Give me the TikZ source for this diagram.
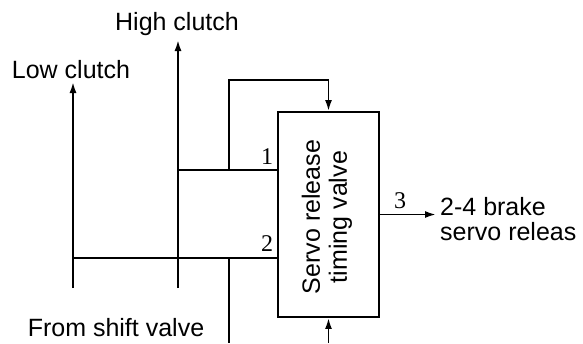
\documentclass[tikz,border=0pt]{standalone}
\usepackage{fontspec}
\setmainfont{Liberation Sans}
\newfontfamily\numfont{Liberation Serif}
\usetikzlibrary{arrows.meta}
\begin{document}
\begin{tikzpicture}[x=1pt,y=-1pt,
  wire/.style={line width=1.9pt},
  arr/.style={wire,-{Latex[length=11pt,width=7pt]}},
  lbl/.style={font=\fontsize{25}{25}\selectfont,inner sep=0pt},
  num/.style={font=\numfont\fontsize{24}{24}\selectfont,inner sep=0pt},
  valvebox/.style={draw,line width=1.9pt,minimum width=101pt,minimum height=205pt,inner sep=0pt}]
\useasboundingbox (0,0) rectangle (583,343);
% valve box
\node[valvebox] (box) at (328.5,214.5) {};
\node[lbl,rotate=90,align=center,font=\fontsize{25}{27}\selectfont] (boxtxt) at (327,217) {Servo release\\timing valve};
% coordinates
\coordinate (lowbot) at (73,288);
\coordinate (lowtop) at (73,82);
\coordinate (highbot) at (178,288);
\coordinate (hightop) at (178,40);
\coordinate (j1) at (178,170);
\coordinate (p1) at (229,170);
\coordinate (p1top) at (229,80);
\coordinate (j2) at (73,258);
\coordinate (sv) at (229,258);
\coordinate (svbot) at (229,343);
\coordinate (botin) at (328.5,343);
\coordinate (out) at (436,214.5);
% lines
\draw[arr] (lowbot) -- (lowtop);
\draw[arr] (highbot) -- (hightop);
\draw[wire] (j1) -- (j1 -| box.west);
\draw[arr] (p1) -- (p1top) -| (box.north);
\draw[wire] (j2) -- (j2 -| box.west);
\draw[wire] (sv) -- (svbot);
\draw[arr] (botin) -- (box.south);
\draw[arr] (box.east) -- (out);
% labels
\node[lbl] (low) at (71,70) {Low clutch};
\node[lbl] (high) at (177,24) {High clutch};
\node[lbl] (shift) at (116,328) {From shift valve};
\node[lbl,anchor=west,align=left] (brake) at (440,219) {2-4 brake\\servo releas};
\node[num] (n1) at (267,157) {1};
\node[num] (n2) at (267,244) {2};
\node[num] (n3) at (400,201) {3};
\end{tikzpicture}
\end{document}
